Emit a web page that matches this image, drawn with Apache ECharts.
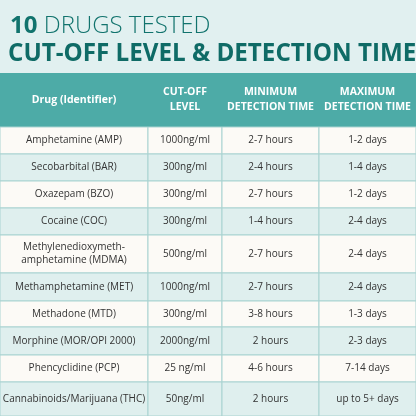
<!DOCTYPE html><html><head><meta charset="utf-8">
<script src="https://cdn.jsdelivr.net/npm/echarts@6/dist/echarts.min.js"></script>
<style>html,body{margin:0;padding:0;background:#e1f0f0}#c{width:416px;height:416px}</style></head>
<body><div id="c"></div><script>
const headers = ['Drug (Identifier)', 'CUT-OFF\nLEVEL', 'MINIMUM\nDETECTION TIME', 'MAXIMUM\nDETECTION TIME'];
const drugs = ['Amphetamine (AMP)','Secobarbital (BAR)','Oxazepam (BZO)','Cocaine (COC)','Methylenedioxymeth-\namphetamine (MDMA)','Methamphetamine (MET)','Methadone (MTD)','Morphine (MOR/OPI 2000)','Phencyclidine (PCP)','Cannabinoids/Marijuana (THC)'];
const cutoff = ['1000ng/ml','300ng/ml','300ng/ml','300ng/ml','500ng/ml','1000ng/ml','300ng/ml','2000ng/ml','25 ng/ml','50ng/ml'];
const minTime = ['2-7 hours','2-4 hours','2-7 hours','1-4 hours','2-7 hours','2-7 hours','3-8 hours','2 hours','4-6 hours','2 hours'];
const maxTime = ['1-2 days','1-4 days','1-2 days','2-4 days','2-4 days','2-4 days','1-3 days','2-3 days','7-14 days','up to 5+ days'];
const colEdges = [0,148,222,319,416];
const rowH = [54,27,27,27,27,38,28,26,28,27,34];
const rows = [headers].concat(drugs.map((d,i)=>[d,cutoff[i],minTime[i],maxTime[i]]));
const tops=[0]; rowH.forEach(h=>tops.push(tops[tops.length-1]+h));
const data=[]; rows.forEach((r,ri)=>r.forEach((t,ci)=>data.push([ci,ri,t])));
const total=tops[tops.length-1];
const chart=echarts.init(document.getElementById('c'));
chart.setOption({
 backgroundColor:'#e1f0f0',
 title:[{text:'{b|10} DRUGS TESTED',left:5,top:9,textStyle:{fontFamily:'"Open Sans", sans-serif',fontSize:24,fontWeight:300,color:'#11736d',rich:{b:{fontSize:24,fontWeight:'bold',color:'#11736d',fontFamily:'"Open Sans", sans-serif'}}}},
        {text:'CUT-OFF LEVEL & DETECTION TIME',left:3,top:37,textStyle:{fontFamily:'"Open Sans", sans-serif',fontSize:24.2,fontWeight:'bold',color:'#0f6b66'}}],
 grid:{left:0,right:0,top:73,bottom:0},
 xAxis:{type:'value',min:0,max:416,show:false},
 yAxis:{type:'value',min:0,max:total,inverse:true,show:false},
 series:[{type:'custom',data:data,renderItem:(p,api)=>{
   const ci=api.value(0),ri=api.value(1),t=data[p.dataIndex][2];
   const a=api.coord([colEdges[ci],tops[ri]]),b=api.coord([colEdges[ci+1],tops[ri+1]]);
   const head=ri===0;
   const fill=head?'#4dabA7':(ri%2===1?'#fcfaf6':'#dfefee');
   return {type:'group',children:[
    {type:'rect',shape:{x:a[0],y:a[1],width:b[0]-a[0],height:b[1]-a[1]},style:{fill:fill,stroke:head?fill:'#a9d3d1',lineWidth:head?0:1}},
    {type:'text',style:{x:(a[0]+b[0])/2,y:(a[1]+b[1])/2,text:t,align:'center',verticalAlign:'middle',fill:head?'#fff':'#333',font:(head?'bold 10.5px':'10px')+' "Open Sans", sans-serif',lineHeight:head?15:13}}
   ]};
 }}]
});
</script></body></html>
